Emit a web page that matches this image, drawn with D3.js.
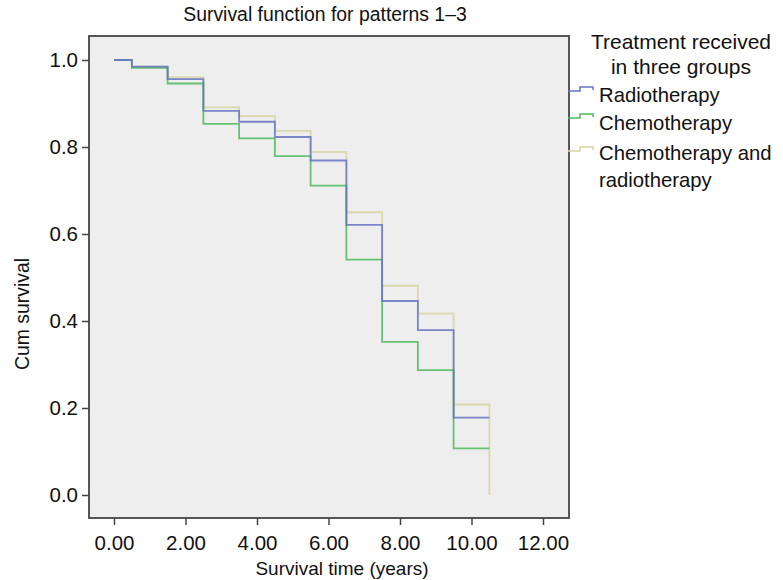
<!DOCTYPE html>
<html>
<head>
<meta charset="utf-8">
<script src="https://cdn.jsdelivr.net/npm/d3@7"></script>
<style>
  body { margin: 0; background: #fff; }
  text { font-family: "Liberation Sans", Arial, sans-serif; fill: #111; }
</style>
</head>
<body>
<script>
// survival data (step times in years, cum survival after each step)
var stepTimes = [0, 0.5, 1.5, 2.5, 3.5, 4.5, 5.5, 6.5, 7.5, 8.5, 9.5, 10.5];
var radioSurv = [1.0, 0.985, 0.956, 0.883, 0.858, 0.823, 0.769, 0.621, 0.446, 0.379, 0.178, 0.178];
var chemoSurv = [1.0, 0.982, 0.946, 0.853, 0.820, 0.779, 0.711, 0.541, 0.352, 0.287, 0.107, 0.107];
var bothSurv  = [1.0, 0.985, 0.960, 0.891, 0.871, 0.837, 0.789, 0.650, 0.481, 0.417, 0.208, 0.0];
var seriesNames = ["Radiotherapy", "Chemotherapy", "Chemotherapy and radiotherapy"];
var xTicks = [0, 2, 4, 6, 8, 10, 12];
var yTicks = [0, 0.2, 0.4, 0.6, 0.8, 1.0];

var svgWidth = 783;
var svgHeight = 580;

var svg = d3.select("body")
  .append("svg")
  .attr("width", svgWidth)
  .attr("height", svgHeight);

// scales
var xScale = d3.scaleLinear().domain([0, 12]).range([114, 543]);
var yScale = d3.scaleLinear().domain([0, 1]).range([495, 60]);

// plot box
var box = {left: 89, right: 569, top: 36, bottom: 518};
svg.append("rect")
  .attr("x", box.left)
  .attr("y", box.top)
  .attr("width", box.right - box.left)
  .attr("height", box.bottom - box.top)
  .attr("fill", "#eeeeee")
  .attr("stroke", "#444")
  .attr("stroke-width", 1.8);

// axes
var bottomAxis = d3.axisBottom(xScale)
  .tickValues(xTicks)
  .tickFormat(d3.format(".2f"))
  .tickSizeOuter(0)
  .tickSize(7)
  .tickPadding(10);
var leftAxis = d3.axisLeft(yScale)
  .tickValues(yTicks)
  .tickFormat(d3.format(".1f"))
  .tickSizeOuter(0)
  .tickSize(7)
  .tickPadding(4);

var xg = svg.append("g")
  .attr("transform", `translate(0, ${box.bottom})`)
  .call(bottomAxis);
var yg = svg.append("g")
  .attr("transform", `translate(${box.left}, 0)`)
  .call(leftAxis);

[xg, yg].forEach(function (g) {
  g.select(".domain").remove();
  g.selectAll(".tick line").attr("stroke", "#444").attr("stroke-width", 1.5);
  g.selectAll(".tick text")
    .style("font-family", "'Liberation Sans', Arial, sans-serif")
    .style("font-size", "20.5px")
    .attr("fill", "#111");
});

// survival curves
var line = d3.line()
  .x(d => xScale(d[0]))
  .y(d => yScale(d[1]))
  .curve(d3.curveStepAfter);

function pts(vals) {
  return stepTimes.map((t, i) => [t, vals[i]]);
}

var curves = [
  {vals: bothSurv, color: "#d8d4a2"},
  {vals: chemoSurv, color: "#4cba5e"},
  {vals: radioSurv, color: "#6473c2"}
];

svg.selectAll(".curve")
  .data(curves)
  .enter()
  .append("path")
  .attr("class", "curve")
  .attr("d", d => line(pts(d.vals)))
  .attr("fill", "none")
  .attr("stroke", d => d.color)
  .attr("stroke-width", 1.8)
  .attr("opacity", 0.85);

// title
svg.append("text")
  .attr("x", 325)
  .attr("y", 21)
  .attr("text-anchor", "middle")
  .style("font-size", "19.4px")
  .text("Survival function for patterns 1\u20133");

// axis labels
svg.append("text")
  .attr("x", 342)
  .attr("y", 575)
  .attr("text-anchor", "middle")
  .style("font-size", "19px")
  .text("Survival time (years)");

svg.append("text")
  .attr("transform", "translate(29, 314) rotate(-90)")
  .attr("text-anchor", "middle")
  .style("font-size", "19.4px")
  .text("Cum survival");

// legend
var legend = svg.append("g");
legend.append("text")
  .attr("x", 681).attr("y", 49)
  .attr("text-anchor", "middle")
  .style("font-size", "21px")
  .text("Treatment received");
legend.append("text")
  .attr("x", 681).attr("y", 74)
  .attr("text-anchor", "middle")
  .style("font-size", "21px")
  .text("in three groups");

var legendItems = [
  {lines: ["Radiotherapy"], color: "#6473c2", sy: 91, ty: 102},
  {lines: ["Chemotherapy"], color: "#4cba5e", sy: 118, ty: 130},
  {lines: ["Chemotherapy and", "radiotherapy"], color: "#d8d4a2", sy: 151, ty: 160}
];

legendItems.forEach(function (item) {
  legend.append("path")
    .attr("d", `M568,${item.sy} H580 V${item.sy - 4} H593 V${item.sy - 1}`)
    .attr("fill", "none")
    .attr("stroke", item.color)
    .attr("stroke-width", 1.5);
  item.lines.forEach(function (l, i) {
    legend.append("text")
      .attr("x", 599)
      .attr("y", item.ty + i * 27)
      .style("font-size", "20.3px")
      .text(l);
  });
});
</script>
</body>
</html>
